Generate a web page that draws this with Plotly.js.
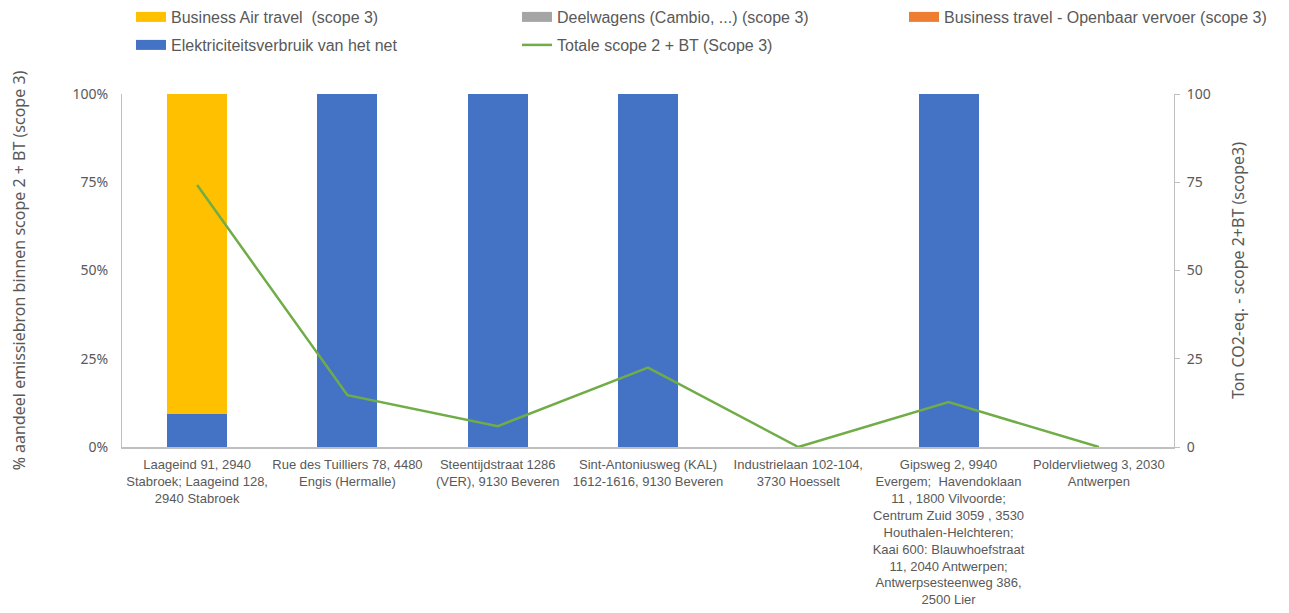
<!DOCTYPE html>
<html>
<head>
<meta charset="utf-8">
<script src="https://cdn.plot.ly/plotly-3.0.1.min.js"></script>
<style>html,body{margin:0;padding:0;background:#fff;}#chart{width:1289px;height:613px;}</style>
</head>
<body>
<div id="chart"></div>
<script>
const categories = [
  "Laageind 91, 2940 Stabroek; Laageind 128, 2940 Stabroek",
  "Rue des Tuilliers 78, 4480 Engis (Hermalle)",
  "Steentijdstraat 1286 (VER), 9130 Beveren",
  "Sint-Antoniusweg (KAL) 1612-1616, 9130 Beveren",
  "Industrielaan 102-104, 3730 Hoesselt",
  "Gipsweg 2, 9940 Evergem;  Havendoklaan 11 , 1800 Vilvoorde; Centrum Zuid 3059 , 3530 Houthalen-Helchteren; Kaai 600: Blauwhoefstraat 11, 2040 Antwerpen; Antwerpsesteenweg 386, 2500 Lier",
  "Poldervlietweg 3, 2030 Antwerpen"
];
const tickLabels = [
  "Laageind 91, 2940<br>Stabroek; Laageind 128,<br>2940 Stabroek",
  "Rue des Tuilliers 78, 4480<br>Engis (Hermalle)",
  "Steentijdstraat 1286<br>(VER), 9130 Beveren",
  "Sint-Antoniusweg (KAL)<br>1612-1616, 9130 Beveren",
  "Industrielaan 102-104,<br>3730 Hoesselt",
  "Gipsweg 2, 9940<br>Evergem;  Havendoklaan<br>11 , 1800 Vilvoorde;<br>Centrum Zuid 3059 , 3530<br>Houthalen-Helchteren;<br>Kaai 600: Blauwhoefstraat<br>11, 2040 Antwerpen;<br>Antwerpsesteenweg 386,<br>2500 Lier",
  "Poldervlietweg 3, 2030<br>Antwerpen"
];
// shares (fraction of scope 2 + BT)
const elektriciteit = [0.093, 1, 1, 1, 0, 1, 0];
const businessAir   = [0.907, 0, 0, 0, 0, 0, 0];
const deelwagens    = [0, 0, 0, 0, 0, 0, 0];
const openbaarVervoer = [0, 0, 0, 0, 0, 0, 0];
// total ton CO2-eq (right axis)
const totaal = [74.2, 14.7, 5.9, 22.5, 0, 12.7, 0];

const names = {
  air: "Business Air travel  (scope 3)",
  deel: "Deelwagens (Cambio, ...) (scope 3)",
  ov: "Business travel - Openbaar vervoer (scope 3)",
  elek: "Elektriciteitsverbruik van het net",
  tot: "Totale scope 2 + BT (Scope 3)"
};
const colors = {air:"#FFC000", deel:"#A5A5A5", ov:"#ED7D31", elek:"#4472C4", tot:"#70AD47"};

function bar(y, key){
  return {type:"bar", x:categories, y:y, name:names[key], legendgroup:key,
    marker:{color:colors[key], line:{width:0}}, showlegend:false, hoverinfo:"y+name"};
}
function proxy(key, legend, width){
  return {type:"scatter", mode:"lines", x:[null], y:[null], name:names[key], legendgroup:key,
    legend:legend, line:{color:colors[key], width:width}, hoverinfo:"skip"};
}
const traces = [
  bar(elektriciteit, "elek"),
  bar(businessAir, "air"),
  bar(deelwagens, "deel"),
  bar(openbaarVervoer, "ov"),
  {type:"scatter", mode:"lines", x:categories, y:totaal, yaxis:"y2", name:names.tot,
   legendgroup:"tot", showlegend:false, line:{color:colors.tot, width:2.5}},
  proxy("air", "legend", 12),
  proxy("deel", "legend2", 12),
  proxy("ov", "legend3", 12),
  proxy("elek", "legend4", 12),
  proxy("tot", "legend5", 2.5)
];

const fontFam = "'Noto Sans', 'Open Sans', sans-serif";
const grey = "#595959";
function leg(px, py){
  return {orientation:"h", xref:"container", yref:"container", xanchor:"left", yanchor:"middle",
    x:px/1289, y:1-py/613, bgcolor:"rgba(0,0,0,0)", borderwidth:0,
    font:{family:"'Liberation Sans', Arial, sans-serif", size:16, color:grey}};
}

const layout = {
  width:1289, height:613,
  margin:{l:122, r:115, t:94, b:166},
  paper_bgcolor:"#fff", plot_bgcolor:"#fff",
  barmode:"stack", bargap:0.6,
  font:{family:fontFam, color:grey},
  showlegend:true,
  legend:leg(131, 17),
  legend2:leg(517, 17),
  legend3:leg(904, 17),
  legend4:leg(131, 45),
  legend5:leg(517, 45),
  xaxis:{type:"category", tickmode:"array", tickvals:categories, ticktext:tickLabels,
    showline:true, linecolor:"#BFBFBF", linewidth:1.5, ticks:"", showgrid:false,
    tickfont:{size:13, color:grey, family:"'Liberation Sans', Arial, sans-serif"}, ticklabelstandoff:5,
    automargin:false, zeroline:false},
  yaxis:{range:[0,1], tickvals:[0,0.25,0.5,0.75,1], tickformat:".0%",
    showline:true, linecolor:"#BFBFBF", linewidth:1, ticks:"", showgrid:false, zeroline:false,
    tickfont:{size:14, color:grey, family:fontFam}, ticklabelstandoff:10,
    title:{text:"% aandeel emissiebron binnen scope 2 + BT (scope 3)", font:{size:16, color:grey, family:fontFam}, standoff:42},
    automargin:false},
  yaxis2:{overlaying:"y", side:"right", range:[0,100], tickvals:[0,25,50,75,100],
    showline:true, linecolor:"#BFBFBF", linewidth:1, ticks:"outside", ticklen:5, tickcolor:"#BFBFBF",
    showgrid:false, zeroline:false, tickfont:{size:14, color:grey, family:fontFam}, ticklabelstandoff:4,
    title:{text:"Ton CO2-eq. - scope 2+BT (scope3)", font:{size:16, color:grey, family:fontFam}, standoff:22},
    automargin:false}
};
Plotly.newPlot("chart", traces, layout, {displayModeBar:false, staticPlot:true});
</script>
</body>
</html>
